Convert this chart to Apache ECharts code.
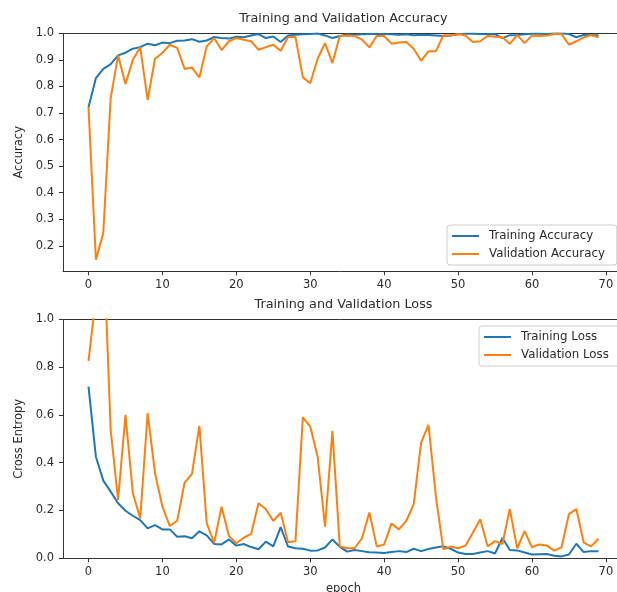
<!DOCTYPE html>
<html>
<head>
<meta charset="utf-8">
<script src="https://cdn.jsdelivr.net/npm/echarts@6/dist/echarts.min.js"></script>
<style>
html,body{margin:0;padding:0;background:#fff;overflow:hidden;}
#c{width:617px;height:592px;}
</style>
</head>
<body>
<div id="c"></div>
<script>
const epochs = [0,1,2,3,4,5,6,7,8,9,10,11,12,13,14,15,16,17,18,19,20,21,22,23,24,25,26,27,28,29,30,31,32,33,34,35,36,37,38,39,40,41,42,43,44,45,46,47,48,49,50,51,52,53,54,55,56,57,58,59,60,61,62,63,64,65,66,67,68,69];
const trainAcc = [0.722,0.831,0.866,0.884,0.917,0.927,0.942,0.948,0.961,0.955,0.965,0.963,0.972,0.973,0.978,0.968,0.973,0.986,0.982,0.980,0.987,0.985,0.992,0.997,0.982,0.988,0.967,0.992,0.995,0.996,0.997,0.999,0.992,0.982,0.990,0.996,0.995,0.996,0.997,0.997,0.997,0.996,0.995,0.996,0.993,0.995,0.994,0.992,0.990,0.992,0.996,0.998,0.998,0.997,0.996,0.997,0.982,0.993,0.994,0.996,0.998,0.998,0.997,0.999,0.999,0.997,0.985,0.994,0.993,0.993];
const valAcc = [0.722,0.148,0.248,0.756,0.917,0.809,0.900,0.947,0.749,0.904,0.926,0.957,0.945,0.866,0.871,0.834,0.951,0.982,0.937,0.970,0.982,0.976,0.970,0.938,0.948,0.957,0.934,0.986,0.986,0.834,0.812,0.904,0.963,0.888,0.990,0.992,0.990,0.976,0.947,0.990,0.990,0.961,0.965,0.967,0.942,0.897,0.932,0.932,0.993,0.992,0.997,0.992,0.967,0.970,0.990,0.987,0.985,0.960,0.993,0.963,0.992,0.990,0.992,0.997,0.997,0.957,0.970,0.985,0.993,0.985];
const trainLoss = [0.718,0.425,0.325,0.279,0.230,0.199,0.178,0.160,0.125,0.139,0.121,0.121,0.090,0.092,0.084,0.113,0.096,0.060,0.058,0.079,0.053,0.060,0.047,0.038,0.070,0.050,0.130,0.049,0.042,0.040,0.032,0.033,0.045,0.079,0.048,0.028,0.035,0.030,0.025,0.024,0.022,0.026,0.030,0.026,0.040,0.030,0.039,0.045,0.050,0.040,0.024,0.018,0.018,0.024,0.030,0.020,0.085,0.035,0.033,0.024,0.016,0.017,0.018,0.011,0.008,0.016,0.061,0.026,0.030,0.029];
const valLoss = [0.826,1.09,1.35,0.537,0.244,0.600,0.272,0.167,0.607,0.356,0.216,0.135,0.157,0.316,0.353,0.554,0.146,0.065,0.216,0.093,0.063,0.086,0.102,0.230,0.205,0.156,0.191,0.067,0.071,0.590,0.551,0.425,0.132,0.533,0.049,0.042,0.042,0.084,0.192,0.049,0.058,0.146,0.121,0.157,0.227,0.484,0.558,0.258,0.038,0.049,0.042,0.053,0.107,0.163,0.050,0.072,0.060,0.206,0.042,0.114,0.046,0.058,0.054,0.032,0.046,0.185,0.206,0.066,0.050,0.082];
const xTicks = [0,10,20,30,40,50,60,70];
const accTicks = [0.2,0.3,0.4,0.5,0.6,0.7,0.8,0.9,1.0];

const FONT = 'DejaVu Sans';
const TXT = '#2b2b2b';
const AX = '#333';
const C1 = '#1f77b4', C2 = '#ff7f0e';
const XMIN = -3.45, XMAX = 72.45;
const pairs = arr => epochs.map((e, i) => [e, arr[i]]);

function xAxisCfg(gi, name) {
  return {
    type: 'value', gridIndex: gi, min: XMIN, max: XMAX, position: 'bottom',
    splitLine: {show: false},
    axisLine: {show: true, onZero: false, lineStyle: {color: AX, width: 1}},
    axisTick: {show: true, length: 4, lineStyle: {color: AX}, customValues: xTicks},
    axisLabel: {color: TXT, fontFamily: FONT, fontSize: 11.5, margin: 8, customValues: xTicks},
    name: name, nameLocation: 'middle', nameGap: 25,
    nameTextStyle: {color: TXT, fontFamily: FONT, fontSize: 11.5}
  };
}
function topAxisCfg(gi) {
  return {
    type: 'value', gridIndex: gi, min: XMIN, max: XMAX, position: 'top',
    splitLine: {show: false},
    axisLine: {show: true, onZero: false, lineStyle: {color: AX, width: 1}},
    axisTick: {show: false}, axisLabel: {show: false}
  };
}

const option = {
  animation: false,
  backgroundColor: '#fff',
  title: [
    {text: 'Training and Validation Accuracy', left: 343.5, top: 12, textAlign: 'center', padding: 0,
     textStyle: {color: TXT, fontFamily: FONT, fontSize: 12.8, fontWeight: 'normal'}},
    {text: 'Training and Validation Loss', left: 343.5, top: 298, textAlign: 'center', padding: 0,
     textStyle: {color: TXT, fontFamily: FONT, fontSize: 12.8, fontWeight: 'normal'}}
  ],
  grid: [
    {left: 63, top: 33.3, width: 561, height: 238, outerBoundsMode: 'none', containLabel: false, show: false},
    {left: 63, top: 319.3, width: 561, height: 239, outerBoundsMode: 'none', containLabel: false, show: false}
  ],
  xAxis: [xAxisCfg(0, ''), xAxisCfg(1, 'epoch'), topAxisCfg(0), topAxisCfg(1)],
  yAxis: [
    {type: 'value', gridIndex: 0, min: 0.104, max: 1.0,
     splitLine: {show: false},
     axisLine: {show: true, onZero: false, lineStyle: {color: AX}},
     axisTick: {show: true, length: 4, lineStyle: {color: AX}, customValues: accTicks},
     axisLabel: {color: TXT, fontFamily: FONT, fontSize: 11.5, margin: 9, customValues: accTicks,
                 formatter: v => v.toFixed(1)},
     name: 'Accuracy', nameLocation: 'middle', nameGap: 38,
     nameTextStyle: {color: TXT, fontFamily: FONT, fontSize: 11.5}},
    {type: 'value', gridIndex: 1, min: 0, max: 1.0, interval: 0.2,
     splitLine: {show: false},
     axisLine: {show: true, onZero: false, lineStyle: {color: AX}},
     axisTick: {show: true, length: 4, lineStyle: {color: AX}},
     axisLabel: {color: TXT, fontFamily: FONT, fontSize: 11.5, margin: 9, formatter: v => v.toFixed(1)},
     name: 'Cross Entropy', nameLocation: 'middle', nameGap: 38,
     nameTextStyle: {color: TXT, fontFamily: FONT, fontSize: 11.5}}
  ],
  legend: [
    {data: ['Training Accuracy', 'Validation Accuracy'], orient: 'vertical', left: 447, top: 225,
     icon: 'rect', itemWidth: 27, itemHeight: 2, itemGap: 4,
     padding: [4, 12, 4, 5], backgroundColor: 'rgba(255,255,255,0.8)', borderColor: '#ccc', borderWidth: 1, borderRadius: 3,
     textStyle: {color: TXT, fontFamily: FONT, fontSize: 11.8, lineHeight: 14, padding: [0, 0, 0, 5]}},
    {data: ['Training Loss', 'Validation Loss'], orient: 'vertical', left: 479, top: 326,
     icon: 'rect', itemWidth: 27, itemHeight: 2, itemGap: 4,
     padding: [4, 12, 4, 5], backgroundColor: 'rgba(255,255,255,0.8)', borderColor: '#ccc', borderWidth: 1, borderRadius: 3,
     textStyle: {color: TXT, fontFamily: FONT, fontSize: 11.8, lineHeight: 14, padding: [0, 0, 0, 5]}}
  ],
  series: [
    {name: 'Training Accuracy', type: 'line', xAxisIndex: 0, yAxisIndex: 0, data: pairs(trainAcc),
     symbol: 'none', color: C1, lineStyle: {color: C1, width: 2}, clip: true},
    {name: 'Validation Accuracy', type: 'line', xAxisIndex: 0, yAxisIndex: 0, data: pairs(valAcc),
     symbol: 'none', color: C2, lineStyle: {color: C2, width: 2}, clip: true},
    {name: 'Training Loss', type: 'line', xAxisIndex: 1, yAxisIndex: 1, data: pairs(trainLoss),
     symbol: 'none', color: C1, lineStyle: {color: C1, width: 2}, clip: true},
    {name: 'Validation Loss', type: 'line', xAxisIndex: 1, yAxisIndex: 1, data: pairs(valLoss),
     symbol: 'none', color: C2, lineStyle: {color: C2, width: 2}, clip: true}
  ]
};
const chart = echarts.init(document.getElementById('c'), null, {renderer: 'canvas'});
chart.setOption(option);
</script>
</body>
</html>
